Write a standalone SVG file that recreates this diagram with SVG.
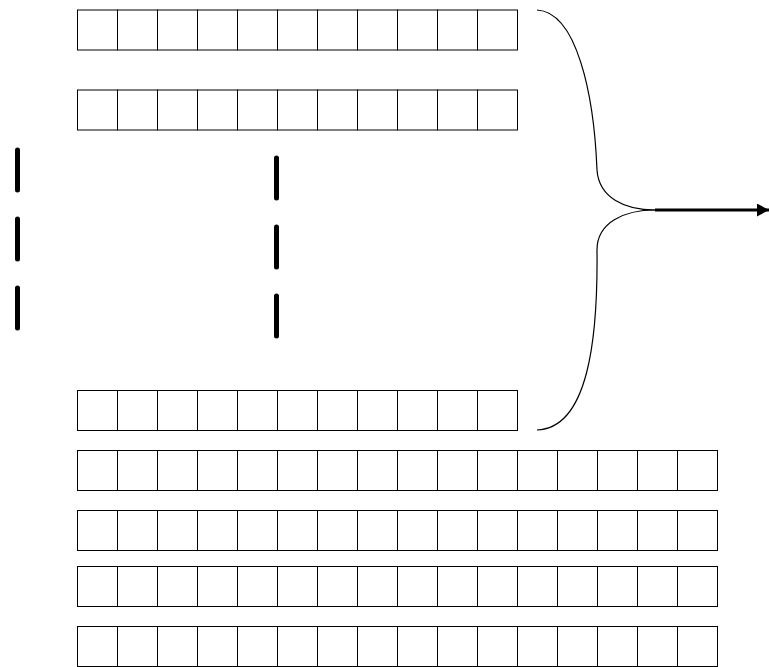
<svg xmlns="http://www.w3.org/2000/svg" xmlns:xlink="http://www.w3.org/1999/xlink" width="769" height="667" viewBox="0 0 769 667">
<style>
.cell{fill:#fff;stroke:#000;stroke-width:1}
.dash{fill:none;stroke:#000;stroke-width:5;stroke-linecap:round;stroke-dasharray:40 29}
.brace{fill:none;stroke:#000;stroke-width:1.2}
.arrow{fill:none;stroke:#000;stroke-width:3}
</style>
<defs>
<rect id="c" class="cell" width="40" height="40"/>
<g id="r11">
<use xlink:href="#c" x="0"/><use xlink:href="#c" x="40"/><use xlink:href="#c" x="80"/><use xlink:href="#c" x="120"/><use xlink:href="#c" x="160"/><use xlink:href="#c" x="200"/><use xlink:href="#c" x="240"/><use xlink:href="#c" x="280"/><use xlink:href="#c" x="320"/><use xlink:href="#c" x="360"/><use xlink:href="#c" x="400"/>
</g>
<g id="r16">
<use xlink:href="#r11"/><use xlink:href="#c" x="440"/><use xlink:href="#c" x="480"/><use xlink:href="#c" x="520"/><use xlink:href="#c" x="560"/><use xlink:href="#c" x="600"/>
</g>
<marker id="ah" markerWidth="12" markerHeight="13" refX="12" refY="6.5" orient="auto" markerUnits="userSpaceOnUse">
<path d="M0,0 L12,6.5 L0,13 Z" fill="#000"/>
</marker>
</defs>
<g id="row1"><use xlink:href="#r11" x="77.5" y="10"/></g>
<g id="row2"><use xlink:href="#r11" x="77.5" y="90"/></g>
<g id="row3"><use xlink:href="#r11" x="77.5" y="390.5"/></g>
<g id="row4"><use xlink:href="#r16" x="77.5" y="450.5"/></g>
<g id="row5"><use xlink:href="#r16" x="77.5" y="510.5"/></g>
<g id="row6"><use xlink:href="#r16" x="77.5" y="566.5"/></g>
<g id="row7"><use xlink:href="#r16" x="77.5" y="626.5"/></g>
<g id="ellipsis">
<line class="dash" x1="17.5" y1="150" x2="17.5" y2="330"/>
<line class="dash" x1="276.5" y1="158" x2="276.5" y2="338"/>
</g>
<g id="connectors">
<path class="brace" d="M537,10 C577,12 594,95 597,170 C599,198 625,210 655,210"/>
<path class="brace" d="M655,210 C625,210 597,222 597,250 C598,340 588,428 537,430"/>
<line class="arrow" x1="655" y1="210" x2="769" y2="210" marker-end="url(#ah)"/>
</g>
</svg>
